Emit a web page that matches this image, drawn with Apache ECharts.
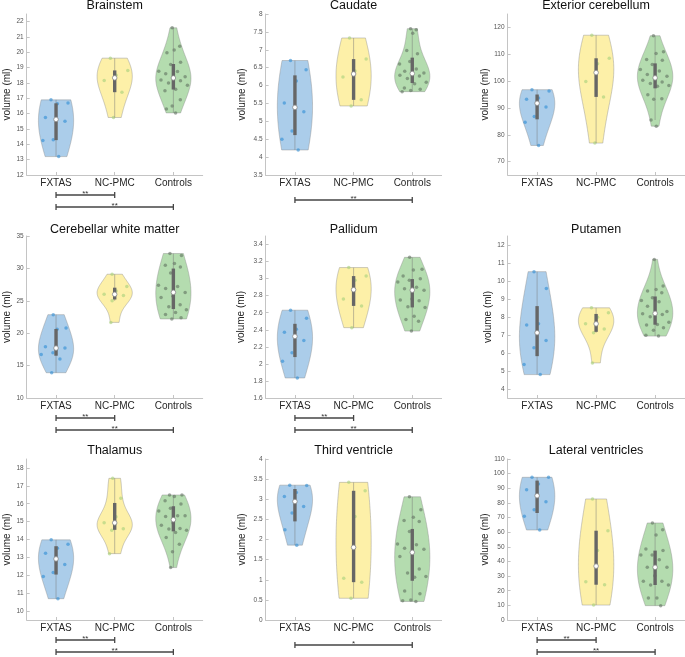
<!DOCTYPE html>
<html lang="en">
<head>
<meta charset="UTF-8">
<title>Regional volumes by group</title>
<script src="https://cdn.jsdelivr.net/npm/echarts@6/dist/echarts.min.js"></script>
<style>
    html, body { margin: 0; padding: 0; background: #fff; }
    #chart { width: 685px; height: 657px; }
</style>
</head>
<body>
<div id="chart"></div>
<script>
    const groupNames = ['FXTAS', 'NC-PMC', 'Controls']
    const regionNames = ['Brainstem', 'Caudate', 'Exterior cerebellum',
        'Cerebellar white matter', 'Pallidum', 'Putamen',
        'Thalamus', 'Third ventricle', 'Lateral ventricles']

    // volumes (ml), one list per region and group
    const brainstemFXTAS = [16.9, 16.7, 16.65, 15.75, 15.5, 14.3, 14.25, 13.2]
    const brainstemNCPMC = [19.62, 18.82, 18.5, 18.17, 17.4, 15.75]
    const brainstemControls = [21.6, 20.4, 20.15, 19.97, 19.36, 19.2, 18.77, 18.75, 18.6, 18.4, 18.33,
        18.2, 18.15, 18.0, 17.85, 17.6, 17.5, 16.9, 16.5, 16.3, 16.05]

    const caudateFXTAS = [6.70, 6.44, 6.13, 5.51, 5.27, 4.73, 4.5, 4.2]
    const caudateNCPMC = [7.33, 6.74, 6.41, 6.24, 5.6, 5.43]
    const caudateControls = [7.59, 7.56, 7.46, 6.98, 6.89, 6.67, 6.6, 6.46, 6.4, 6.35, 6.32, 6.29,
        6.27, 6.2, 6.09, 6.05, 5.93, 5.9, 5.86, 5.83]

    const extCerebellumFXTAS = [96.8, 96.3, 93.7, 93.2, 90.3, 86.8, 84.7, 76.0]
    const extCerebellumNCPMC = [117.1, 108.5, 106.5, 99.8, 94.1, 76.9]
    const extCerebellumControls = [116.9, 110.9, 110.3, 108.0, 107.8, 106.2, 104.3, 103.8, 102.5, 101.8,
        101.2, 100.3, 99.7, 99.1, 98.4, 98.1, 94.9, 93.4, 93.2, 85.5, 83.2]

    const cwmFXTAS = [22.86, 20.8, 20.6, 17.9, 17.7, 17.0, 16.7, 16.0, 13.9]
    const cwmNCPMC = [29.1, 27.2, 26.5, 26.0, 25.8, 25.0, 21.67]
    const cwmControls = [32.3, 32.0, 30.75, 30.5, 30.2, 29.3, 27.4, 27.2, 26.9, 26.3, 25.7, 25.5,
        24.4, 24.1, 23.6, 23.2, 22.9, 22.4, 22.2]

    const pallidumFXTAS = [2.63, 2.535, 2.405, 2.37, 2.275, 2.13, 2.03, 1.835]
    const pallidumNCPMC = [3.13, 3.03, 2.98, 2.76, 2.68, 2.425]
    const pallidumControls = [3.25, 3.11, 3.1, 3.03, 3.0, 2.98, 2.96, 2.9, 2.88, 2.865, 2.76, 2.75,
        2.74, 2.67, 2.66, 2.56, 2.52, 2.5, 2.385]

    const putamenFXTAS = [10.52, 9.59, 7.62, 7.55, 6.7, 6.29, 5.36, 4.8]
    const putamenNCPMC = [8.51, 8.23, 7.99, 7.62, 7.34, 7.12, 5.45]
    const putamenControls = [11.2, 9.72, 9.53, 9.44, 9.35, 9.07, 8.92, 8.85, 8.6, 8.3, 8.2, 8.18,
        8.14, 8.01, 7.71, 7.58, 7.55, 7.4, 7.27, 6.99, 6.94]

    const thalamusFXTAS = [13.98, 13.74, 13.51, 13.23, 12.6, 12.15, 11.93, 10.69]
    const thalamusNCPMC = [17.42, 16.3, 15.27, 14.93, 14.6, 14.52, 13.21]
    const thalamusControls = [16.49, 16.49, 16.41, 16.17, 15.98, 15.74, 15.6, 15.33, 15.29, 15.33,
        14.92, 14.8, 14.62, 14.58, 14.52, 14.39, 14.11, 13.74, 13.31, 12.43]

    const thirdVentFXTAS = [3.35, 3.34, 3.17, 3.07, 2.82, 2.66, 2.24, 1.86]
    const thirdVentNCPMC = [3.42, 3.21, 2.57, 1.04, 0.94, 0.54]
    const thirdVentControls = [3.06, 2.74, 2.55, 2.47, 2.45, 2.2, 1.89, 1.87, 1.78, 1.76, 1.68,
        1.58, 1.27, 1.17, 1.08, 1.06, 0.72, 0.65, 0.5, 0.48, 0.46]

    const latVentFXTAS = [97.5, 97.5, 93.0, 89.0, 80.8, 75.4, 70.8, 61.5]
    const latVentNCPMC = [82.7, 61.0, 47.4, 26.2, 24.1, 10.2]
    const latVentControls = [66.3, 61.7, 58.1, 48.5, 47.4, 44.4, 44.4, 41.2, 36.0, 36.0, 30.3,
        26.4, 26.4, 23.9, 23.9, 15.0, 15.0, 9.8]

    const regionData = [
        [brainstemFXTAS, brainstemNCPMC, brainstemControls],
        [caudateFXTAS, caudateNCPMC, caudateControls],
        [extCerebellumFXTAS, extCerebellumNCPMC, extCerebellumControls],
        [cwmFXTAS, cwmNCPMC, cwmControls],
        [pallidumFXTAS, pallidumNCPMC, pallidumControls],
        [putamenFXTAS, putamenNCPMC, putamenControls],
        [thalamusFXTAS, thalamusNCPMC, thalamusControls],
        [thirdVentFXTAS, thirdVentNCPMC, thirdVentControls],
        [latVentFXTAS, latVentNCPMC, latVentControls]
    ]

    // significance brackets: [from group, to group, stars]
    const regionSig = [
        [[0, 1, '**'], [0, 2, '**']],
        [[0, 2, '**']],
        [],
        [[0, 1, '**'], [0, 2, '**']],
        [[0, 1, '**'], [0, 2, '**']],
        [],
        [[0, 1, '**'], [0, 2, '**']],
        [[0, 2, '*']],
        [[0, 1, '**'], [0, 2, '**']]
    ]

    // y axis ranges and tick step
    const axisMin = [12, 3.5, 65, 10, 1.6, 3.5, 9.5, 0, 0]
    const axisMax = [22.5, 8, 125, 35, 3.5, 12.5, 18.5, 4, 110]
    const tickStep = [1, 0.5, 10, 5, 0.2, 1, 1, 0.5, 10]

    // layout
    const colLeft = [26.7, 265.6, 507.6]
    const colWidth = [176, 176, 177]
    const rowTop = [14, 236, 459]
    const rowHeight = [161, 162, 161]
    const titleY = [6, 229.7, 451]
    const nameGaps = [14, 18, 14, 14, 19, 14, 14, 18, 14]

    const fontFamily = '"Liberation Sans", Arial, Helvetica, sans-serif'
    const axisColor = '#c4c4c4'
    const fillColors = ['#abcdea', '#fdf0a8', '#b4dcaf']
    const dotColors = ['rgba(45,140,212,0.75)', 'rgba(170,210,125,0.8)', 'rgba(90,105,90,0.7)']
    const smooth = 1.5

    // MATLAB style quantile
    function quantile(s, p) {
        const n = s.length
        const pos = n * p + 0.5
        if (pos <= 1) return s[0]
        if (pos >= n) return s[n - 1]
        const k = Math.floor(pos)
        return s[k - 1] + (pos - k) * (s[k] - s[k - 1])
    }

    function groupStats(values) {
        const s = values.slice().sort((a, b) => a - b)
        const n = s.length
        const q1 = quantile(s, 0.25), med = quantile(s, 0.5), q3 = quantile(s, 0.75)
        const iqr = q3 - q1
        let lo = q1 - 1.5 * iqr
        lo = Math.max(lo, Math.min(...s.filter(v => v > lo)))
        let hi = q3 + 1.5 * iqr
        hi = Math.min(hi, Math.max(...s.filter(v => v < hi)))
        // ksdensity style bandwidth
        const dev = s.map(v => Math.abs(v - med)).sort((a, b) => a - b)
        let sig = quantile(dev, 0.5) / 0.6745
        if (!(sig > 0)) sig = s[n - 1] - s[0]
        const bw = smooth * sig * Math.pow(4 / (3 * n), 0.2)
        const dens = v => s.reduce((acc, x) => acc + Math.exp(-0.5 * Math.pow((v - x) / bw, 2)), 0)
        const steps = 80
        const ys = [], ds = []
        for (let i = 0; i <= steps; i++) {
            const y = s[0] + (s[n - 1] - s[0]) * i / steps
            ys.push(y)
            ds.push(dens(y))
        }
        const scale = 0.3 / Math.max(...ds)
        return { q1, med, q3, lo, hi, ys, ws: ds.map(d => d * scale), halfWidth: v => dens(v) * scale }
    }

    function tickValues(p) {
        const out = []
        const start = Math.ceil(axisMin[p] / tickStep[p] - 1e-9)
        for (let k = start; k * tickStep[p] <= axisMax[p] + 1e-9; k++) {
            out.push(Math.round(k * tickStep[p] * 1000) / 1000)
        }
        return out
    }

    const grids = [], xAxes = [], yAxes = [], series = [], texts = []

    regionNames.forEach(function (name, p) {
        const r = Math.floor(p / 3), c = p % 3
        const stats = regionData[p].map(groupStats)
        const ticks = tickValues(p)

        grids.push({ left: colLeft[c], top: rowTop[r], width: colWidth[c], height: rowHeight[r], outerBoundsMode: 'none' })

        xAxes.push({
            type: 'value', gridIndex: p, min: -0.5, max: 2.5,
            splitLine: { show: false },
            axisLine: { show: true, onZero: false, lineStyle: { color: axisColor, width: 1 } },
            axisTick: { show: true, inside: true, length: 3, customValues: [0, 1, 2], lineStyle: { color: axisColor } },
            axisLabel: {
                customValues: [0, 1, 2], formatter: v => groupNames[Math.round(v)],
                margin: 3, fontSize: 10, color: '#262626', fontFamily: fontFamily
            }
        })

        yAxes.push({
            type: 'value', gridIndex: p, min: axisMin[p], max: axisMax[p],
            name: 'volume (ml)', nameLocation: 'middle', nameGap: nameGaps[p],
            nameTextStyle: { fontSize: 10, color: '#262626', fontFamily: fontFamily },
            splitLine: { show: false },
            axisLine: { show: true, onZero: false, lineStyle: { color: axisColor, width: 1 } },
            axisTick: { show: true, inside: true, length: 3, customValues: ticks, lineStyle: { color: axisColor } },
            axisLabel: { customValues: ticks, margin: 3, fontSize: 6.5, color: '#555', fontFamily: fontFamily }
        })

        texts.push({
            type: 'text', x: colLeft[c] + colWidth[c] / 2, y: titleY[r],
            style: { text: name, align: 'center', verticalAlign: 'middle', fontSize: 12.5, fill: '#111', fontFamily: fontFamily }
        })

        // violins
        series.push({
            type: 'custom', xAxisIndex: p, yAxisIndex: p, z: 2, silent: true, clip: false,
            data: stats.map((st, g) => [g, st.med]),
            renderItem: function (params, api) {
                const g = params.dataIndex
                const st = stats[g]
                const last = st.ys.length - 1
                const pts = [api.coord([g, st.ys[0]])]
                for (let k = 0; k <= last; k++) pts.push(api.coord([g + st.ws[k], st.ys[k]]))
                pts.push(api.coord([g, st.ys[last]]))
                for (let k = last; k >= 0; k--) pts.push(api.coord([g - st.ws[k], st.ys[k]]))
                return {
                    type: 'polygon', shape: { points: pts },
                    style: { fill: fillColors[g], stroke: 'rgba(140,140,140,0.55)', lineWidth: 0.8 }
                }
            }
        })

        // jittered points
        regionData[p].forEach(function (vals, g) {
            const st = stats[g]
            series.push({
                type: 'scatter', xAxisIndex: p, yAxisIndex: p, z: 3, silent: true,
                symbolSize: 3.5,
                itemStyle: { color: dotColors[g] },
                data: vals.map(function (v, i) {
                    const j = ((i * 0.6180339887 + 0.31) % 1) * 2 - 1
                    return [g + j * st.halfWidth(v) * 0.9, v]
                })
            })
        })

        // whisker, IQR bar and median
        series.push({
            type: 'custom', xAxisIndex: p, yAxisIndex: p, z: 4, silent: true, clip: false,
            data: stats.map((st, g) => [g, st.med]),
            renderItem: function (params, api) {
                const g = params.dataIndex
                const st = stats[g]
                const lo = api.coord([g, st.lo]), hi = api.coord([g, st.hi])
                const q1 = api.coord([g, st.q1]), q3 = api.coord([g, st.q3])
                const m = api.coord([g, st.med])
                return {
                    type: 'group', children: [
                        { type: 'line', shape: { x1: lo[0], y1: lo[1], x2: hi[0], y2: hi[1] }, style: { stroke: 'rgba(120,120,120,0.6)', lineWidth: 0.8 } },
                        { type: 'rect', shape: { x: q3[0] - 1.7, y: q3[1], width: 3.4, height: q1[1] - q3[1] }, style: { fill: '#666' } },
                        { type: 'circle', shape: { cx: m[0], cy: m[1], r: 2.3 }, style: { fill: '#fff', stroke: '#8a8a8a', lineWidth: 0.8 } }
                    ]
                }
            }
        })

        // significance brackets under the axis
        const sigs = regionSig[p]
        if (sigs.length) {
            series.push({
                type: 'custom', xAxisIndex: p, yAxisIndex: p, z: 5, silent: true, clip: false,
                data: sigs.map(s => [(s[0] + s[1]) / 2, axisMin[p]]),
                renderItem: function (params, api) {
                    const s = sigs[params.dataIndex]
                    const off = sigs.length === 1 ? 25 : (params.dataIndex === 0 ? 20 : 32)
                    const a = api.coord([s[0], axisMin[p]]), b = api.coord([s[1], axisMin[p]])
                    const y = a[1] + off
                    const st = { stroke: '#454545', lineWidth: 1.3 }
                    return {
                        type: 'group', children: [
                            { type: 'line', shape: { x1: a[0], y1: y, x2: b[0], y2: y }, style: st },
                            { type: 'line', shape: { x1: a[0], y1: y - 3, x2: a[0], y2: y + 3 }, style: st },
                            { type: 'line', shape: { x1: b[0], y1: y - 3, x2: b[0], y2: y + 3 }, style: st },
                            {
                                type: 'text', x: (a[0] + b[0]) / 2, y: y - 1.5,
                                style: { text: s[2], align: 'center', verticalAlign: 'middle', fontSize: 8, fill: '#333', fontFamily: fontFamily }
                            }
                        ]
                    }
                }
            })
        }
    })

    const chart = echarts.init(document.getElementById('chart'))
    chart.setOption({
        animation: false,
        backgroundColor: '#fff',
        grid: grids,
        xAxis: xAxes,
        yAxis: yAxes,
        graphic: { elements: texts },
        series: series
    })
</script>
</body>
</html>
